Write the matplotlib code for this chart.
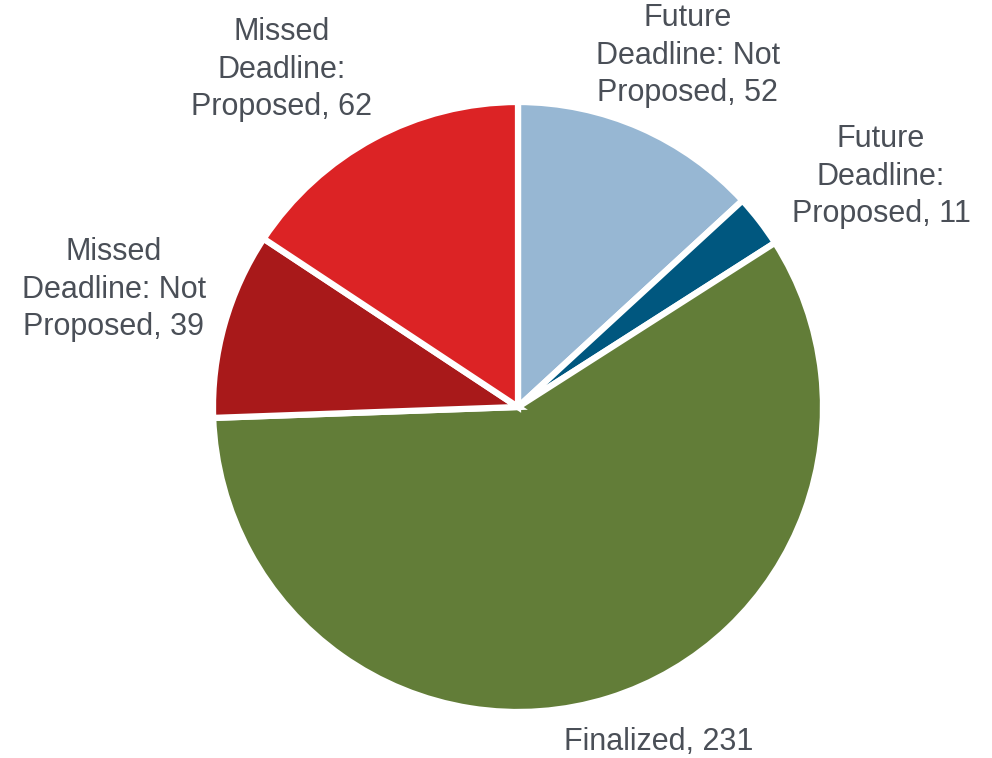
import numpy as np
import matplotlib
matplotlib.use('Agg')
import matplotlib.pyplot as plt

plt.rcParams['font.family'] = ['Liberation Sans', 'DejaVu Sans']

labels = ['Future\nDeadline: Not\nProposed', 'Future\nDeadline:\nProposed', 'Finalized',
          'Missed\nDeadline: Not\nProposed', 'Missed\nDeadline:\nProposed']
values = [52, 11, 231, 39, 62]
colors = ['#97B7D3', '#00577F', '#627D38', '#A8191A', '#DC2325']

# label placement (distance in radii, angle in degrees), tuned by eye
label_pos = [(1.28, 64.2), (1.41, 32.4), (1.19, -67.2), (1.38, 163.8), (1.35, 125.0)]

fig = plt.figure(figsize=(9.92, 7.58), dpi=100)
ax = fig.add_axes([0, 0, 1, 1])

wedges, texts = ax.pie(values, colors=colors, startangle=90, counterclock=False,
                       labels=[f'{l}, {v}' for l, v in zip(labels, values)],
                       wedgeprops=dict(edgecolor='white', linewidth=4.5),
                       textprops=dict(fontsize=22, color='#4A4F57'))

for t, (r, a) in zip(texts, label_pos):
    t.set_position((r * np.cos(np.radians(a)), r * np.sin(np.radians(a))))
    t.set_ha('center')
    t.set_va('center')
    t.set_multialignment('center')
    t.set_linespacing(1.32)

ax.set_xlim(-518 / 305, (992 - 518) / 305)
ax.set_ylim(-(758 - 407) / 305, 407 / 305)
ax.axis('off')

fig.savefig('out.png', dpi=100)
